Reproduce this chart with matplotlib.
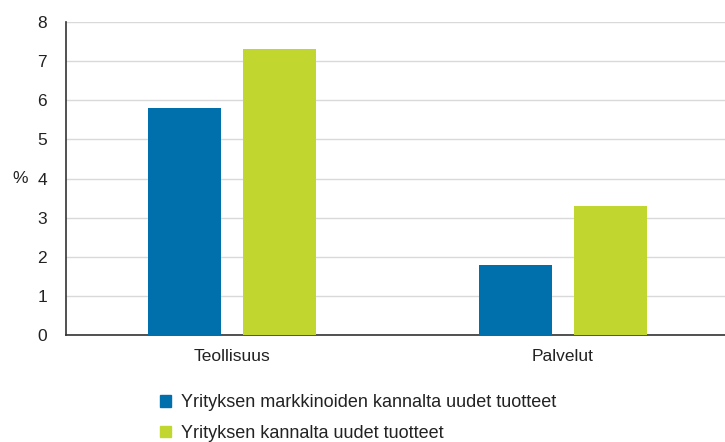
import matplotlib.pyplot as plt
import numpy as np
from matplotlib.patches import Patch

plt.rcParams['font.family'] = ['Liberation Sans', 'DejaVu Sans']

categories = ["Teollisuus", "Palvelut"]
series_names = ["Yrityksen markkinoiden kannalta uudet tuotteet",
                "Yrityksen kannalta uudet tuotteet"]
market_new = [5.8, 1.8]
firm_new = [7.3, 3.3]
colors = ["#0070ad", "#c1d72f"]

fig = plt.figure(figsize=(7.25, 4.42), dpi=100)
ax = fig.add_axes([0.0917, 0.242, 0.9083, 0.708])

x = np.arange(len(categories))
w = 0.22
off = 0.143
ax.bar(x - off, market_new, width=w, color=colors[0], zorder=3)
ax.bar(x + off, firm_new, width=w, color=colors[1], zorder=3)

ax.set_xlim(-0.5, 1.49)
ax.set_ylim(0, 8)
ax.set_yticks(range(0, 9))
ax.set_xticks(x)
ax.set_xticklabels(categories)
ax.tick_params(axis="both", length=0, labelsize=12.5, colors="#222222")
ax.tick_params(axis="y", pad=14)
ax.tick_params(axis="x", pad=10)
ax.yaxis.grid(True, color="#d9d9d9", linewidth=1, zorder=0)
ax.set_axisbelow(True)
for s in ["top", "right"]:
    ax.spines[s].set_visible(False)
for s in ["left", "bottom"]:
    ax.spines[s].set_color("#333333")
    ax.spines[s].set_linewidth(1.2)

ax.set_ylabel("%", rotation=0, fontsize=12.5, color="#222222")
ax.yaxis.set_label_coords(-0.07, 0.475)

handles = [Patch(color=c) for c in colors]
fig.legend(handles, series_names, loc="upper left",
           bbox_to_anchor=(0.208, 0.128), frameon=False, fontsize=13,
           handlelength=0.6, handleheight=0.6, handletextpad=0.55,
           labelspacing=0.75, borderpad=0, labelcolor="#222222")

fig.savefig("out.png", dpi=100)
